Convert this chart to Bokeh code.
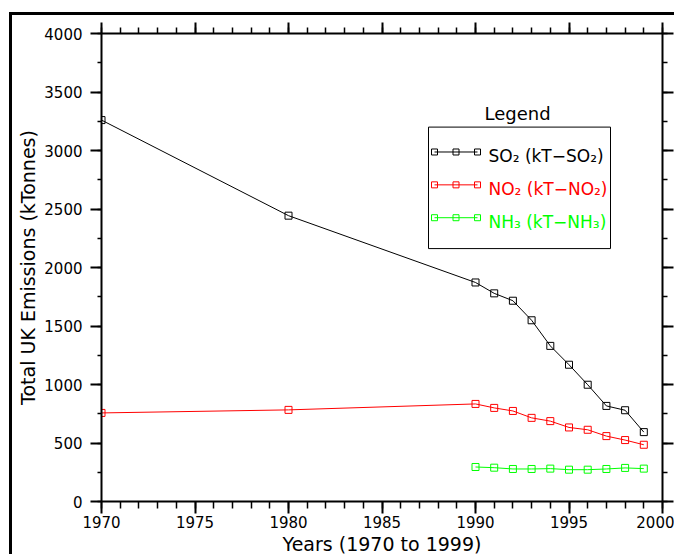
from bokeh.plotting import figure
from bokeh.models import Range1d, LinearAxis, SingleIntervalTicker, Label, BoxAnnotation
from bokeh.embed import file_html
from bokeh.resources import INLINE

# ---- data ----
years_so2 = [1970, 1980, 1990, 1991, 1992, 1993, 1994, 1995, 1996, 1997, 1998, 1999]
so2 = [3260, 2443, 1872, 1779, 1716, 1549, 1330, 1169, 998, 817, 780, 593]
years_no2 = [1970, 1980, 1990, 1991, 1992, 1993, 1994, 1995, 1996, 1997, 1998, 1999]
no2 = [757, 783, 834, 800, 774, 715, 687, 633, 613, 559, 525, 485]
years_nh3 = [1990, 1991, 1992, 1993, 1994, 1995, 1996, 1997, 1998, 1999]
nh3 = [295, 289, 278, 278, 281, 272, 272, 278, 287, 281]

series_labels = ["SO\u2082 (kT\u2212SO\u2082)", "NO\u2082 (kT\u2212NO\u2082)", "NH\u2083 (kT\u2212NH\u2083)"]
series_colors = ["#000000", "#ff0000", "#00ff00"]

x_label = "Years (1970 to 1999)"
y_label = "Total UK Emissions (kTonnes)"
legend_title = "Legend"

FONT = "DejaVu Sans"
# page frame offset (border drawn with CSS on the plot's host element)
OX, OY = 12, 15
W, H = 677 - OX, 557 - OY
L, R, T, B = 101 - OX, 15, 33 - OY, 54
X0, X1, Y0, Y1 = 1970, 2000, 0, 4000

p = figure(width=W, height=H, x_range=Range1d(X0, X1), y_range=Range1d(Y0, Y1),
           output_backend="svg", toolbar_location=None,
           min_border_left=L, min_border_right=R, min_border_top=T, min_border_bottom=B)
p.styles = {"margin-left": "9px", "margin-top": "12px",
            "border-left": "3px solid black", "border-top": "3px solid black"}
p.outline_line_color = None
p.xgrid.grid_line_color = None
p.ygrid.grid_line_color = None
p.background_fill_color = "white"
p.border_fill_color = "white"

def style_axis(ax, interval, nminor, tout, mout, labels=True, fs="15px"):
    ax.ticker = SingleIntervalTicker(interval=interval, num_minor_ticks=nminor)
    ax.axis_line_width = 2
    ax.axis_line_color = "black"
    ax.major_tick_in = 0
    ax.minor_tick_in = 0
    ax.major_tick_out = tout
    ax.minor_tick_out = mout
    ax.major_tick_line_width = 2
    ax.minor_tick_line_width = 1.5
    ax.major_tick_line_color = "black"
    ax.minor_tick_line_color = "black"
    if labels:
        ax.major_label_text_font = FONT
        ax.major_label_text_font_size = fs
        ax.major_label_text_color = "black"
    else:
        ax.major_label_text_font_size = "1px"
        ax.major_label_text_color = None
        ax.major_label_standoff = 0

xa = p.xaxis[0]
ya = p.yaxis[0]
style_axis(xa, 5, 5, 12, 7, fs="15px")
style_axis(ya, 500, 2, 11, 4, fs="15px")
xa.major_label_standoff = 2
ya.major_label_standoff = 8
xa.axis_label = x_label
ya.axis_label = y_label
for ax in (xa, ya):
    ax.axis_label_text_font = FONT
    ax.axis_label_text_font_size = "19px"
    ax.axis_label_text_font_style = "normal"
    ax.axis_label_text_color = "black"
xa.axis_label_standoff = 2
ya.axis_label_standoff = 2

ra = LinearAxis()
style_axis(ra, 500, 2, 11, 5, labels=False)
p.add_layout(ra, "right")
ta = LinearAxis()
style_axis(ta, 5, 5, 11, 6, labels=False)
p.add_layout(ta, "above")

# ---- data series ----
for xs, ys, c in [(years_so2, so2, series_colors[0]),
                  (years_no2, no2, series_colors[1]),
                  (years_nh3, nh3, series_colors[2])]:
    p.line(xs, ys, line_color=c, line_width=1)
    p.scatter(xs, ys, marker="square", size=7, fill_color=None, line_color=c, line_width=1)

# ---- legend (layout in page pixels, converted to data space) ----
FW = W - L - R
FH = H - T - B
def px2x(px):
    return X0 + (px - OX - L) * (X1 - X0) / FW
def px2y(py):
    return Y0 + (T + FH - (py - OY)) * (Y1 - Y0) / FH

p.add_layout(BoxAnnotation(left=px2x(428), right=px2x(610), top=px2y(127), bottom=px2y(249),
                           fill_alpha=0, line_color="black", line_alpha=1, line_width=1))
p.add_layout(Label(x=px2x(517), y=px2y(113), text=legend_title, text_align="center",
                   text_baseline="middle", text_font=FONT, text_font_size="18px",
                   text_color="black"))
rows = [152, 185, 218]
for i, (lab, c) in enumerate(zip(series_labels, series_colors)):
    yy = px2y(rows[i])
    mx = [px2x(434), px2x(455.5), px2x(477)]
    p.line([mx[0], mx[-1]], [yy, yy], line_color=c, line_width=1)
    p.scatter(mx, [yy] * 3, marker="square", size=6, fill_color=None, line_color=c, line_width=1)
    p.add_layout(Label(x=px2x(488), y=px2y(rows[i] + 4), text=lab, text_align="left",
                       text_baseline="middle", text_font=FONT, text_font_size="17px",
                       text_color=c))

open("out.html", "w").write(file_html(p, INLINE))
